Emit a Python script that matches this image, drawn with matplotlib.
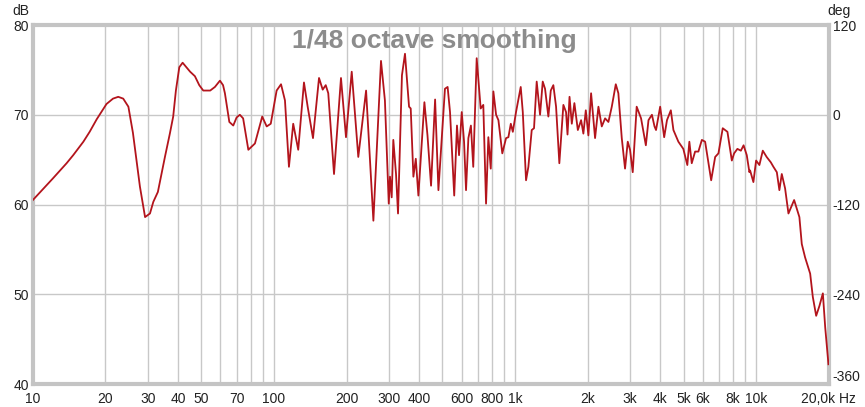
import matplotlib.pyplot as plt
import numpy as np

# frequency response (Hz, dB)
freq = [10.0, 12.1, 13.8, 14.7, 16.2, 17.2, 18.4, 20.2, 21.5, 22.6, 23.7, 24.9, 26.0, 27.8,
        29.2, 30.6, 31.6, 33.0, 35.3, 37.0, 38.2, 39.2, 40.5, 41.8, 43.3, 44.9, 47.0, 49.0,
        50.9, 54.4, 56.9, 59.7, 61.5, 62.6, 65.3, 67.8, 70.0, 72.2, 74.5, 78.3,
        83.4, 89.4, 93.3, 97.0, 102.6, 107.0, 111.1, 115.4, 120.2, 126.1, 133.2, 138.0,
        145.2, 153.8, 159.3, 164.0, 168.0, 177.5, 189.7, 199.0, 210.2, 223.8, 241.1, 258.5,
        278.0, 288.6, 299.4, 302.9, 307.9, 312.7, 320.9, 327.1, 339.6, 349.6, 363.4, 369.3,
        378.8, 387.6, 397.3, 420.8, 433.4, 448.4, 466.1, 481.1, 512.1, 525.3, 537.5, 559.5,
        574.4, 585.8, 601.1, 614.6, 626.3, 640.5, 656.2, 671.0, 693.4, 720.3, 738.6, 758.2,
        775.1, 793.1, 813.2, 834.6, 853.4, 885.5, 918.0, 938.6, 960.6, 979.2, 1009.6, 1056,
        1077, 1111, 1136, 1173, 1199, 1230, 1270, 1303, 1332, 1375, 1407, 1442, 1480, 1527,
        1587, 1628, 1651, 1683, 1720, 1763, 1822, 1880, 1921, 1966, 2015, 2068, 2148, 2218,
        2290, 2364, 2440, 2520, 2618, 2683, 2772, 2860, 2935, 3000, 3078, 3196, 3333, 3409,
        3489, 3578, 3697, 3790, 3845, 4000, 4156, 4269, 4429, 4540, 4760, 4990, 5185, 5286,
        5408, 5585, 5763, 5957, 6145, 6511, 6764, 6979, 7272, 7605, 7931, 8107, 8364, 8647,
        8873, 9147, 9380, 9443, 9745, 10000, 10320, 10660, 11060, 11510, 11800, 12190, 12490,
        12780, 13190, 13620, 14380, 15120, 15470, 15970, 16760, 17190, 17750, 18310, 18920,
        19350, 19960]
spl = [60.5, 62.9, 64.6, 65.5, 67.0, 68.1, 69.5, 71.2, 71.8, 72.0, 71.8, 70.9, 68.0, 62.0,
       58.6, 59.0, 60.3, 61.4, 65.3, 67.9, 69.8, 72.7, 75.3, 75.8, 75.3, 74.8, 74.3, 73.3,
       72.7, 72.7, 73.1, 73.8, 73.3, 72.4, 69.2, 68.8, 69.7, 70.0, 69.6, 66.1,
       66.8, 69.8, 68.7, 69.0, 72.7, 73.4, 71.6, 64.2, 69.0, 66.1, 73.6, 70.9,
       67.4, 74.1, 72.8, 73.3, 72.4, 63.4, 74.1, 67.5, 74.8, 65.3, 72.7, 58.2,
       76.0, 71.6, 60.1, 63.1, 60.8, 67.2, 63.4, 59.0, 74.4, 76.8, 70.9, 70.7,
       63.1, 65.1, 61.0, 71.4, 67.7, 62.1, 71.7, 61.6, 72.9, 73.1, 70.3, 61.0,
       68.8, 65.5, 70.3, 67.0, 61.6, 67.4, 68.8, 64.2, 76.3, 70.7, 71.1, 60.1,
       67.5, 64.0, 72.6, 70.0, 69.4, 65.7, 67.4, 67.5, 69.0, 68.1, 70.3, 73.1,
       70.3, 62.7, 64.2, 68.3, 68.5, 73.7, 70.0, 73.7, 72.9, 69.8, 72.7, 73.3, 70.9, 64.6,
       71.1, 70.3, 67.8, 72.0, 69.0, 71.3, 68.3, 69.4, 67.9, 70.5, 67.7, 72.4, 67.4, 70.9,
       68.7, 69.6, 69.2, 70.9, 73.4, 72.4, 67.4, 64.0, 67.0, 66.1, 63.6, 70.9, 69.6, 68.1,
       66.6, 69.4, 70.0, 68.7, 68.3, 70.9, 67.5, 69.4, 70.5, 68.3, 67.0, 66.2, 64.4, 67.0,
       64.6, 65.9, 65.9, 67.2, 67.0, 62.7, 65.3, 65.7, 68.5, 68.1, 64.9, 65.7, 66.2, 66.0,
       66.6, 65.5, 63.6, 63.8, 62.5, 64.9, 64.4, 66.0, 65.3, 64.7, 64.2, 63.6, 61.6,
       63.4, 61.8, 59.0, 60.5, 58.6, 55.6, 54.1, 52.3, 49.7, 47.6, 48.7, 50.1,
       46.3, 42.2]

grid_freqs = [20, 30, 40, 50, 60, 70, 80, 90, 100, 200, 300, 400, 500, 600, 700, 800, 900,
              1000, 2000, 3000, 4000, 5000, 6000, 7000, 8000, 9000, 10000]
tick_freqs = [10, 20, 30, 40, 50, 70, 100, 200, 300, 400, 600, 800, 1000, 2000, 3000,
              4000, 5000, 6000, 8000, 10000, 20000]
tick_labels = ['10', '20', '30', '40', '50', '70', '100', '200', '300', '400', '600', '800',
               '1k', '2k', '3k', '4k', '5k', '6k', '8k', '10k', '20,0k Hz']
db_ticks = [40, 50, 60, 70, 80]
deg_ticks = [-360, -240, -120, 0, 120]

plt.rcParams['font.family'] = ['Liberation Sans', 'DejaVu Sans']
fig = plt.figure(figsize=(8.65, 4.07), dpi=100)
ax = fig.add_axes([0.038, 0.0565, 0.920, 0.882])

ax.set_xscale('log')
ax.set_xlim(10, 20000)
ax.set_ylim(40, 80)

for f in grid_freqs:
    ax.axvline(f, color='#c8c8c8', lw=1, zorder=1)
for d in [50, 60, 70]:
    ax.axhline(d, color='#c8c8c8', lw=1, zorder=1)

ax.plot(freq, spl, color='#b3141c', lw=1.3, zorder=3)

ax.set_xticks(tick_freqs)
ax.set_xticklabels(tick_labels, fontsize=10)
ax.xaxis.set_minor_locator(plt.NullLocator())
ax.set_yticks(db_ticks)
ax.set_yticklabels([str(t) for t in db_ticks], fontsize=10)
ax.tick_params(length=0, pad=3, colors='#222222')
ax.tick_params(axis='x', pad=6)

for s in ax.spines.values():
    s.set_color('#c4c4c4')
    s.set_linewidth(3)

ax2 = ax.twinx()
ax2.set_ylim(-360, 120)
ax2.set_yticks(deg_ticks)
ax2.set_yticklabels([str(t) for t in deg_ticks], fontsize=10)
ax2.tick_params(length=0, pad=3, colors='#222222')
# lift the bottom phase label so it clears the Hz label
ax2.get_yticklabels()[0].set_verticalalignment('bottom')
for s in ax2.spines.values():
    s.set_visible(False)

ax.text(0.505, 0.955, '1/48 octave smoothing', transform=ax.transAxes, ha='center',
        va='center', fontsize=19, fontweight='bold', color='#8c8c8c', zorder=4)
fig.text(0.014, 0.972, 'dB', fontsize=10, ha='left', va='center', color='#222222')
fig.text(0.970, 0.972, 'deg', fontsize=10, ha='center', va='center', color='#222222')

fig.savefig('out.png', dpi=100)
